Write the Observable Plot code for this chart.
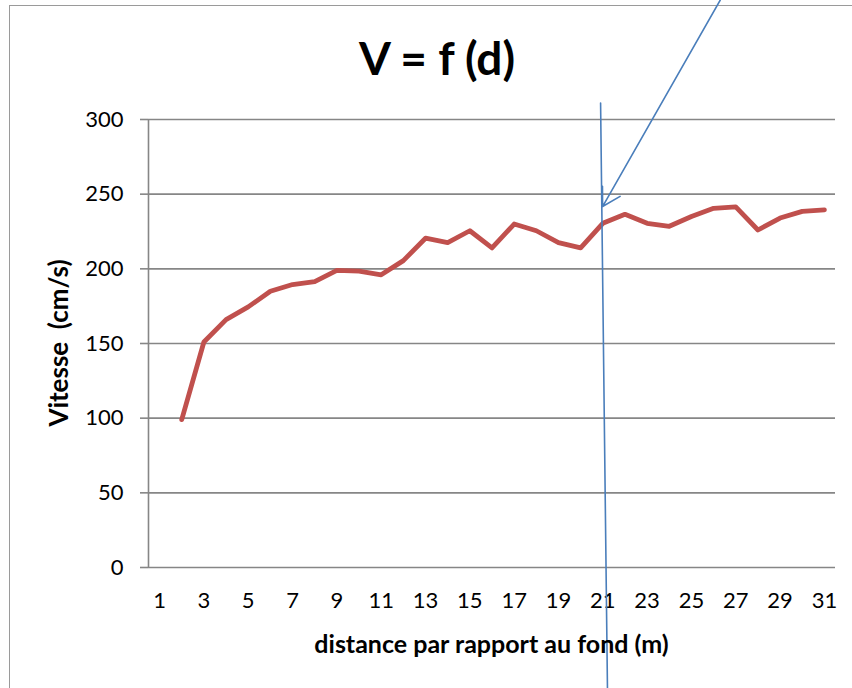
<!DOCTYPE html>
<html>
<head>
<meta charset="utf-8">
<script src="https://cdn.jsdelivr.net/npm/d3@7"></script>
<script src="https://cdn.jsdelivr.net/npm/@observablehq/plot@0.6"></script>
<style>
  html, body { margin: 0; padding: 0; background: #fff; }
  #wrap { position: relative; width: 852px; height: 688px; overflow: hidden; font-family: Lato, "Open Sans", sans-serif; }
  #frame { position: absolute; left: 9px; top: 5px; width: 900px; height: 800px; border-left: 1.5px solid #9a9a9a; border-top: 1.5px solid #9a9a9a; }
  #title { position: absolute; left: 0; width: 874px; top: 30px; text-align: center; font-weight: bold; font-size: 46px; line-height: 56px; color: #000; }
  #xlabel { position: absolute; left: 148px; width: 687px; top: 628px; text-align: center; font-weight: bold; font-size: 25px; line-height: 30px; color: #000; }
  #ylabel { position: absolute; left: 58px; top: 343px; transform: translate(-50%, -50%) rotate(-90deg); white-space: pre; font-weight: bold; font-size: 26px; line-height: 30px; color: #000; }
  svg { position: absolute; left: 0; top: 0; }
</style>
</head>
<body>
<div id="wrap">
  <div id="frame"></div>
  <div id="chart"></div>
  <div id="title">V = f (d)</div>
  <div id="xlabel">distance par rapport au fond (m)</div>
  <div id="ylabel">Vitesse  (cm/s)</div>
</div>
<script>
// Series
const distance = [2, 3, 4, 5, 6, 7, 8, 9, 10, 11, 12, 13, 14, 15, 16, 17, 18, 19, 20, 21, 22, 23, 24, 25, 26, 27, 28, 29, 30, 31];
const vitesse  = [99, 151, 166, 174.5, 185, 189.5, 191.5, 199, 198.5, 196, 205.5, 220.5, 217.5, 225.5, 214, 230, 225.5, 217.5, 214, 230.5, 236.5, 230.5, 228.5, 235, 240.5, 241.5, 226, 234, 238.5, 239.5];

// Tick labels
const xTicks = [1, 3, 5, 7, 9, 11, 13, 15, 17, 19, 21, 23, 25, 27, 29, 31];
const yTicks = [0, 50, 100, 150, 200, 250, 300];

// Hand-drawn annotation (in data units)
const markerX = [20.9, 21.21];
const markerY = [311, -81];
const arrowFrom = [26.3, 380];
const arrowTo = [20.99, 241.7];

const data = distance.map((d, i) => ({d, v: vitesse[i]}));
const marker = markerX.map((x, i) => ({x, y: markerY[i]}));

const gray = "#868686";
const plot = Plot.plot({
  width: 852,
  height: 688,
  marginLeft: 148,
  marginRight: 17,
  marginTop: 119,
  marginBottom: 121,
  style: {fontFamily: "Lato, 'Open Sans', sans-serif", background: "transparent", overflow: "visible"},
  x: {domain: [0.5, 31.5]},
  y: {domain: [0, 300]},
  marks: [
    Plot.gridY(yTicks, {stroke: gray, strokeOpacity: 1, strokeWidth: 1.6}),
    Plot.ruleX([0.5], {stroke: gray, strokeWidth: 1.6}),
    Plot.axisY(yTicks, {tickSize: 8, tickPadding: 17, stroke: gray, strokeWidth: 1.6, fill: "#000", fontSize: 22, label: null, tickFormat: d => String(d)}),
    Plot.axisX(xTicks, {tickSize: 0, tickPadding: 25, fill: "#000", fontSize: 22, label: null, tickFormat: d => String(d)}),
    Plot.line(data, {x: "d", y: "v", stroke: "#C0504D", strokeWidth: 4.8, strokeLinejoin: "round", strokeLinecap: "round"}),
    Plot.line(marker, {x: "x", y: "y", stroke: "#4A7EBB", strokeWidth: 1.6}),
    Plot.arrow([{x1: arrowFrom[0], y1: arrowFrom[1], x2: arrowTo[0], y2: arrowTo[1]}], {x1: "x1", y1: "y1", x2: "x2", y2: "y2", stroke: "#4A7EBB", strokeWidth: 1.6, headLength: 19, headAngle: 60})
  ]
});
document.getElementById("chart").appendChild(plot);
</script>
</body>
</html>
